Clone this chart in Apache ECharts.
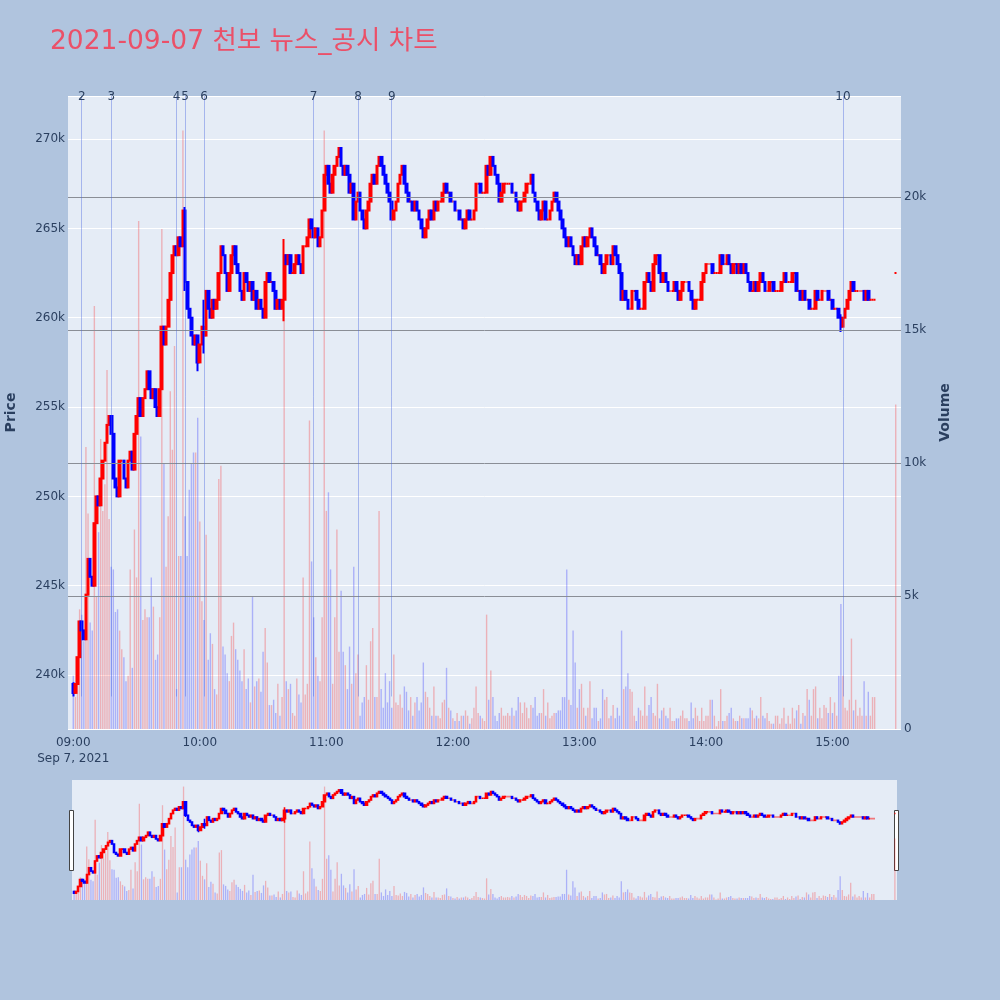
<!DOCTYPE html>
<html><head><meta charset="utf-8">
<script src="https://cdn.jsdelivr.net/npm/echarts@6/dist/echarts.min.js"></script>
<style>html,body{margin:0;padding:0;background:#b0c4de;}#c{width:1000px;height:1000px;}</style>
</head><body><div id="c"></div>
<script>
// ---------------- data (prices in thousand KRW, volumes in thousand shares) ----------------
const chartTitle = '2021-09-07 천보 뉴스_공시 차트';
const sessionStart = '09:00';
const firstOpen = 239.5;
const closes = [
239.0,239.5,241.0,243.0,242.5,242.0,244.5,246.5,245.5,245.0,
248.5,250.0,249.5,251.0,252.0,253.0,254.0,254.5,253.5,251.0,
250.5,250.0,252.0,252.0,251.0,250.5,252.0,252.5,251.5,253.5,
254.5,255.5,254.5,255.5,256.0,257.0,256.0,255.5,256.0,255.0,
254.5,256.0,259.5,258.5,259.5,261.0,262.5,263.5,264.0,263.5,
264.5,264.0,266.0,262.0,260.5,260.0,259.0,258.5,259.0,257.5,
258.5,259.5,259.0,261.5,260.5,260.0,261.0,260.5,261.0,262.5,
264.0,263.5,262.5,261.5,262.5,263.5,264.0,263.0,262.5,261.5,
261.0,262.5,262.0,261.5,262.0,261.0,261.5,260.5,261.0,260.5,
260.0,262.0,262.5,262.0,262.0,261.5,260.5,261.0,260.5,261.0,
263.5,263.0,263.5,262.5,262.5,263.0,263.5,263.0,262.5,264.0,
264.0,264.5,265.5,265.0,264.5,265.0,264.0,264.5,266.0,268.0,
268.5,267.5,267.0,268.0,268.5,269.0,269.5,268.5,268.0,268.5,
268.0,267.0,267.5,265.5,266.5,267.0,266.0,265.5,265.0,266.0,
266.5,267.5,268.0,267.5,268.5,269.0,268.5,268.0,267.5,267.0,
266.5,265.5,266.0,266.5,267.5,268.0,268.5,267.5,267.0,266.5,
266.5,266.0,266.5,266.0,265.5,265.0,264.5,265.0,265.5,266.0,
265.5,266.5,266.0,266.5,266.5,267.0,267.5,267.0,267.0,266.5,
266.5,266.0,266.0,265.5,265.5,265.0,265.5,266.0,265.5,265.5,
266.0,267.5,267.5,267.0,267.0,267.0,268.5,268.0,269.0,268.5,
268.0,267.5,266.5,267.0,267.5,267.5,267.5,267.5,267.0,267.0,
266.5,266.0,266.5,266.5,267.0,267.5,267.5,268.0,267.0,266.5,
266.0,265.5,266.0,266.5,265.5,265.5,266.0,266.5,267.0,266.5,
266.0,265.5,265.0,264.5,264.0,264.5,264.0,263.5,263.0,263.5,
263.0,264.0,264.5,264.0,264.5,265.0,264.5,264.0,263.5,263.5,
263.0,262.5,263.0,263.5,263.5,263.0,264.0,263.5,263.0,262.5,
261.0,261.5,261.0,260.5,260.5,261.5,261.5,261.0,260.5,260.5,
260.5,262.0,262.5,262.0,261.5,263.0,263.5,263.5,262.5,262.0,
262.5,262.0,261.5,261.5,261.5,262.0,261.5,261.0,261.5,262.0,
262.0,262.0,261.5,261.0,260.5,261.0,261.0,261.0,262.0,262.5,
263.0,263.0,263.0,262.5,262.5,262.5,262.5,263.5,263.0,263.0,
263.5,263.0,262.5,263.0,263.0,262.5,263.0,262.5,263.0,262.5,
262.0,261.5,261.5,262.0,261.5,262.0,262.5,262.0,261.5,261.5,
262.0,262.0,261.5,261.5,261.5,261.5,262.0,262.5,262.0,262.0,
262.0,262.5,262.5,261.5,261.5,261.0,261.5,261.0,261.0,260.5,
260.5,260.5,261.5,261.0,261.0,261.5,261.5,261.5,261.0,261.0,
260.5,260.5,260.5,260.0,259.5,260.0,260.5,261.0,261.5,262.0,
261.5,261.5,261.5,261.5,261.5,261.0,261.5,261.0,261.0,261.0,261.0
];
const volumes = [
2.0,1.2,2.7,4.5,4.3,3.3,10.6,8.1,4.0,3.7,
15.9,5.0,7.4,10.9,8.2,9.2,13.5,7.9,6.1,6.0,
4.4,4.5,3.7,3.0,2.7,1.8,2.0,6.0,2.3,7.5,
5.7,19.1,11.0,4.1,4.5,4.2,4.2,5.7,4.6,2.6,
2.8,4.2,18.8,10.0,6.1,8.0,12.7,10.5,14.4,1.5,
6.5,6.5,22.5,8.0,6.5,9.0,10.0,10.4,10.4,11.7,
7.8,4.8,4.1,7.3,2.6,3.6,3.2,1.5,1.3,9.4,
9.9,3.1,2.8,2.1,1.8,3.5,4.0,3.0,2.6,2.2,
1.8,3.0,1.5,1.9,1.0,5.0,1.6,1.8,1.9,1.4,
2.9,3.8,2.5,0.9,0.9,1.1,0.6,1.7,0.5,1.2,
16.5,1.8,1.5,1.7,0.6,0.5,1.9,1.3,1.0,5.7,
1.3,1.7,11.6,6.3,4.2,2.7,2.0,1.8,4.2,22.5,
8.2,8.9,6.0,1.7,4.2,7.5,2.9,5.2,2.9,2.4,
1.5,3.1,1.7,6.1,2.1,2.8,0.5,1.0,1.2,2.4,
1.1,3.3,3.8,1.2,1.2,8.2,1.5,0.8,2.1,1.0,
1.8,0.8,2.8,1.0,0.9,1.3,0.8,1.6,1.4,0.7,
1.2,0.5,1.0,1.2,0.7,1.0,2.5,1.4,1.2,0.8,
0.5,1.6,0.5,0.5,0.4,1.0,1.1,2.3,0.8,0.7,
0.4,0.3,0.6,0.3,0.5,0.5,0.7,0.5,0.2,0.4,
0.8,1.6,0.6,0.5,0.4,0.3,4.3,1.1,2.2,1.2,
0.5,0.3,0.6,0.8,0.5,0.5,0.6,0.5,0.8,0.5,
0.7,1.2,1.0,0.6,1.0,0.8,0.4,0.9,0.8,1.2,
0.5,0.6,0.6,1.5,0.5,1.0,0.4,0.5,0.6,0.6,
0.7,0.7,1.2,1.2,6.0,1.1,0.9,3.7,2.5,0.8,
1.5,1.7,0.8,0.5,0.8,1.8,0.4,0.8,0.8,0.3,
0.4,1.5,1.1,1.2,0.4,0.5,0.9,0.4,0.8,0.5,
3.7,1.5,1.6,2.1,1.5,1.4,0.5,0.3,0.8,0.7,
0.5,1.6,0.5,0.9,1.2,0.6,0.5,1.7,0.4,0.7,
0.8,0.5,0.4,0.8,0.3,0.3,0.4,0.4,0.5,0.7,
0.4,0.4,0.3,1.0,0.4,0.8,0.5,0.3,0.8,0.3,
0.5,0.5,1.1,1.1,0.5,0.1,0.3,1.5,0.3,0.3,
0.5,0.6,0.8,0.4,0.3,0.3,0.5,0.4,0.4,0.4,
0.4,0.8,0.7,0.4,0.5,0.4,1.2,0.5,0.4,0.6,
0.3,0.2,0.2,0.5,0.5,0.2,0.4,0.8,0.2,0.5,
0.2,0.8,0.4,0.7,0.9,0.2,0.6,0.5,1.5,1.1,
0.5,1.5,1.6,0.4,0.8,0.4,0.9,0.8,0.6,1.2,
0.6,1.0,0.5,2.0,4.7,2.0,0.8,0.7,1.1,3.4,
0.7,1.1,0.5,0.8,0.5,1.8,0.5,1.4,0.5,1.2,1.2
];
// notable wicks: [minute index from 09:00, low, high]
const wicks = [[0,238.8,239.6],[53,261.5,266.2],[59,257.0,259.0],[62,258.0,261.0],[100,259.8,264.4],[364,259.2,260.2]];
// closing auction
const auctionTime = '15:30';
const auctionOpen = 262.5, auctionClose = 262.5, auctionVolume = 12.2;
// event markers
const eventLabels = ['2','3','4','5','6','7','8','9','10'];
const eventTimes  = ['09:04','09:18','09:49','09:53','10:02','10:54','11:15','11:31','15:05'];
const eventLineLow = 238.8;
// axes
const priceMin = 236.98, priceMax = 272.41;   // thousand
const volumeMax = 23.8;                       // thousand
const volumeGridTicks = [5, 10, 15, 20];      // thousand
const dateLabel = 'Sep 7, 2021';

// ---------------- build ----------------
function fmt(m){const h=Math.floor(m/60),mm=m%60;return String(h).padStart(2,'0')+':'+String(mm).padStart(2,'0');}
function toMin(s){const p=s.split(':');return +p[0]*60+ +p[1];}
const mainCats=[];for(let t=toMin('08:58');t<=toMin('15:32');t++)mainCats.push(fmt(t));
const sliderCats=[];for(let t=toMin('08:59');t<=toMin('15:31');t++)sliderCats.push(fmt(t));

const startMin=toMin(sessionStart);
const rows=[];let prev=firstOpen;
closes.forEach((c,i)=>{rows.push({t:fmt(startMin+i),o:prev,c:c,v:volumes[i]});prev=c;});
rows.push({t:auctionTime,o:auctionOpen,c:auctionClose,v:auctionVolume});
rows.forEach(r=>{r.l=Math.min(r.o,r.c);r.h=Math.max(r.o,r.c);});
wicks.forEach(w=>{const r=rows[w[0]];r.l=Math.min(r.l,w[1]);r.h=Math.max(r.h,w[2]);});

const UP='#ff0000',DOWN='#0000ff';
const candleData=rows.map(r=>[r.t,r.o*1000,r.c*1000,r.l*1000,r.h*1000]);
const volData=rows.map(r=>({value:[r.t,r.v*1000],itemStyle:{color:r.c>=r.o?'rgba(255,0,0,0.25)':'rgba(0,0,255,0.25)'}}));

const txt='#2a3f5f';
const FONT='"DejaVu Sans", Verdana, sans-serif';
const candleStyle={color:UP,color0:DOWN,borderColor:UP,borderColor0:DOWN,borderColorDoji:UP,borderWidth:2};

const eventLines=eventTimes.map((t,i)=>[{coord:[t,eventLineLow*1000],name:eventLabels[i]},{coord:[t,priceMax*1000]}]);

const chart=echarts.init(document.getElementById('c'),null,{renderer:'canvas'});
chart.setOption({
  animation:false,
  backgroundColor:'#b0c4de',
  title:{text:chartTitle,left:50,top:29,padding:0,textStyle:{fontFamily:'"DejaVu Sans","Noto Sans CJK KR",sans-serif',fontSize:26.5,fontWeight:'normal',color:'#eb5068'}},
  grid:[
    {left:68,right:99,top:96,height:633,show:true,backgroundColor:'#e5ecf6',borderWidth:0,outerBoundsMode:'none'},
    {left:72,right:103,top:780,height:120,show:true,backgroundColor:'#e5ecf6',borderWidth:0,outerBoundsMode:'none'}
  ],
  xAxis:[
    {type:'category',gridIndex:0,data:mainCats,boundaryGap:true,
     axisLine:{show:false},axisTick:{show:false},splitLine:{show:false},
     axisLabel:{interval:(i,v)=>v.endsWith(':00'),formatter:v=>v===sessionStart?v+'\n'+dateLabel:v,
       color:txt,fontSize:12,fontFamily:FONT,margin:6,lineHeight:16,hideOverlap:false}},
    {type:'category',gridIndex:1,data:sliderCats,boundaryGap:false,show:false}
  ],
  yAxis:[
    {type:'value',gridIndex:0,position:'left',min:priceMin*1000,max:priceMax*1000,minInterval:5000,maxInterval:5000,
     axisLine:{show:false},axisTick:{show:false},
     axisLabel:{formatter:v=>(v/1000)+'k',color:txt,fontSize:12,fontFamily:FONT,margin:3,showMinLabel:false,showMaxLabel:false},
     splitLine:{show:true,lineStyle:{color:'#ffffff',width:1}},
     name:'Price',nameLocation:'middle',nameGap:50,nameRotate:90,
     nameTextStyle:{color:txt,fontSize:14,fontWeight:'bold',fontFamily:FONT}},
    {type:'value',gridIndex:0,position:'right',min:0,max:volumeMax*1000,minInterval:5000,maxInterval:5000,
     axisLine:{show:false},axisTick:{show:false},
     axisLabel:{formatter:v=>v===0?'0':(v/1000)+'k',color:txt,fontSize:12,fontFamily:FONT,margin:3,showMaxLabel:false},
     splitLine:{show:false},
     name:'Volume',nameLocation:'middle',nameGap:37,nameRotate:90,
     nameTextStyle:{color:txt,fontSize:14,fontWeight:'bold',fontFamily:FONT}},
    {type:'value',gridIndex:1,min:priceMin*1000,max:priceMax*1000,show:false,splitLine:{show:false}},
    {type:'value',gridIndex:1,min:0,max:volumeMax*1000,show:false,splitLine:{show:false}}
  ],
  series:[
    {type:'bar',xAxisIndex:0,yAxisIndex:1,data:volData,barWidth:1.4,encode:{x:0,y:1},
     markLine:{silent:true,symbol:'none',animation:false,label:{show:false},
       lineStyle:{color:'#8a8e96',width:1,type:'solid'},
       data:volumeGridTicks.map(v=>({yAxis:v*1000}))}},
    {type:'candlestick',xAxisIndex:0,yAxisIndex:0,data:candleData,encode:{x:0,y:[1,2,3,4]},barWidth:2.2,itemStyle:candleStyle,
     markLine:{silent:true,symbol:'none',animation:false,
       lineStyle:{color:'rgba(70,100,225,0.4)',width:1,type:'solid'},
       label:{show:true,position:'end',formatter:p=>p.name,color:txt,fontSize:12,fontFamily:FONT,distance:-7},
       data:eventLines}},
    {type:'bar',xAxisIndex:1,yAxisIndex:3,data:volData,barWidth:1.3,encode:{x:0,y:1}},
    {type:'candlestick',xAxisIndex:1,yAxisIndex:2,data:candleData,encode:{x:0,y:[1,2,3,4]},barWidth:1.8,
     itemStyle:Object.assign({},candleStyle,{borderWidth:1.6})}
  ],
  graphic:[
    {type:'rect',left:69,top:810,shape:{width:4,height:60},style:{fill:'#ffffff',stroke:'#444',lineWidth:1}},
    {type:'rect',left:894,top:810,shape:{width:4,height:60},style:{fill:'#ffffff',stroke:'#444',lineWidth:1}}
  ]
});
</script></body></html>
